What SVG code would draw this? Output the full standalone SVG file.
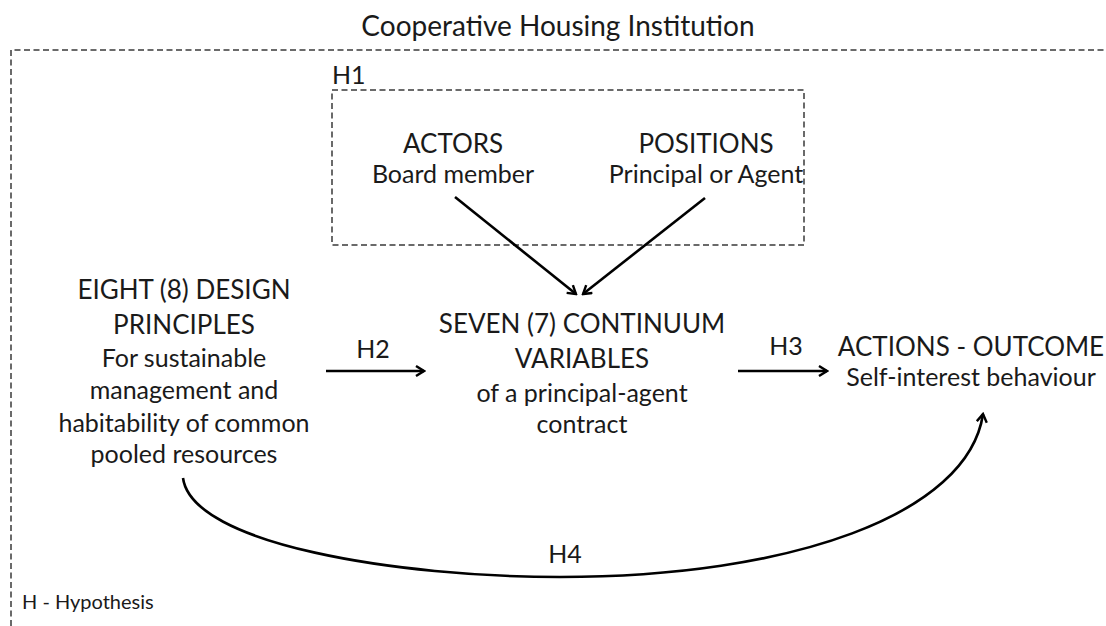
<svg xmlns="http://www.w3.org/2000/svg" width="1106" height="626" viewBox="0 0 1106 626">
  <style>
    text { font-family: Lato, "Open Sans", "Liberation Sans", sans-serif; fill: #1a1a1a; text-anchor: middle; }
    .title { font-size: 28px; }
    .big { font-size: 26px; }
    .sub { font-size: 25px; }
    .lbl { font-size: 25px; }
    .small { font-size: 20px; text-anchor: start; }
    .frame { fill: none; stroke: #6a6a6a; stroke-width: 2; stroke-dasharray: 6 3.5; }
    .link { fill: none; stroke: #000; stroke-width: 2.6; }
  </style>
  <defs>
    <marker id="chev" viewBox="0 0 12 12" refX="10" refY="6" markerWidth="12" markerHeight="12" markerUnits="userSpaceOnUse" orient="auto">
      <path d="M2,1 L10,6 L2,11" fill="none" stroke="#000" stroke-width="2.4"/>
    </marker>
  </defs>
  <rect width="1106" height="626" fill="#fff"/>

  <g id="institution">
    <text x="558" y="36" class="title">Cooperative Housing Institution</text>
    <path class="frame" d="M11,626 V50 H1106"/>
  </g>

  <g id="h1-group">
    <text x="332" y="84" class="lbl" style="text-anchor:start">H1</text>
    <rect class="frame" x="332" y="90" width="472" height="155"/>
  </g>

  <g id="actors">
    <text x="453" y="153" class="big">ACTORS</text>
    <text x="453" y="183" class="sub">Board member</text>
  </g>

  <g id="positions">
    <text x="706" y="153" class="big">POSITIONS</text>
    <text x="706" y="183" class="sub">Principal or Agent</text>
  </g>

  <g id="design-principles">
    <text x="184" y="299" class="big">EIGHT (8) DESIGN</text>
    <text x="184" y="334" class="big">PRINCIPLES</text>
    <text x="184" y="367" class="sub">For sustainable</text>
    <text x="184" y="399" class="sub">management and</text>
    <text x="184" y="432" class="sub">habitability of common</text>
    <text x="184" y="463" class="sub">pooled resources</text>
  </g>

  <g id="continuum-variables">
    <text x="582" y="333" class="big">SEVEN (7) CONTINUUM</text>
    <text x="582" y="368" class="big">VARIABLES</text>
    <text x="582" y="402" class="sub">of a principal-agent</text>
    <text x="582" y="433" class="sub">contract</text>
  </g>

  <g id="actions-outcome">
    <text x="971" y="356" class="big">ACTIONS - OUTCOME</text>
    <text x="971" y="386" class="sub">Self-interest behaviour</text>
  </g>

  <g id="connectors">
    <line class="link" x1="455" y1="197" x2="576" y2="294" marker-end="url(#chev)"/>
    <line class="link" x1="705" y1="198" x2="583" y2="294" marker-end="url(#chev)"/>
    <line class="link" x1="326" y1="371" x2="424" y2="371" marker-end="url(#chev)"/>
    <text x="373" y="358" class="lbl">H2</text>
    <line class="link" x1="738" y1="371" x2="827" y2="371" marker-end="url(#chev)"/>
    <text x="786" y="355" class="lbl">H3</text>
    <path class="link" d="M183,478 C192,545 400,577 560,577 C790,577 968,515 983,414" marker-end="url(#chev)"/>
    <text x="565" y="563" class="lbl">H4</text>
  </g>

  <text x="22" y="609" class="small">H - Hypothesis</text>
</svg>
